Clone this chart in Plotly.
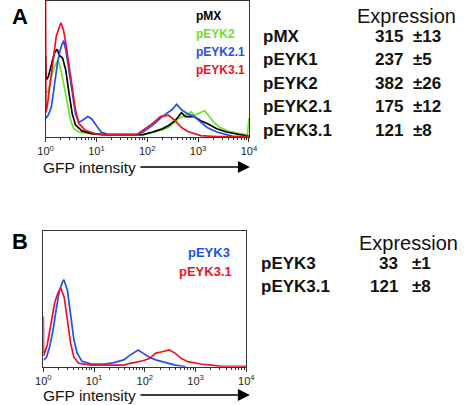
import numpy as np
import plotly.graph_objects as go

# ---------------- data (x in log10 GFP intensity, y in % of axis height) ----------------
a_red_log = [0, 0.005, 0.03, 0.082, 0.145, 0.209, 0.30, 0.35, 0.398, 0.461, 0.525, 0.588, 0.651, 0.777, 0.967, 1.156, 1.472, 1.788, 1.915, 2.104, 2.26, 2.42, 2.546, 2.673, 2.799, 3.052, 3.368, 4.0]
a_red_y = [100, 18, 22, 37, 56, 74, 84, 79, 69, 52, 34, 20, 10, 5, 2.5, 1.5, 1.5, 1.5, 5, 10, 15, 16, 12, 7, 4, 1, 0.3, 0.3]

a_blue_log = [0, 0.051, 0.114, 0.177, 0.240, 0.303, 0.354, 0.398, 0.461, 0.525, 0.588, 0.651, 0.714, 0.83, 0.904, 0.998, 1.093, 1.220, 1.472, 1.788, 1.915, 2.104, 2.294, 2.483, 2.578, 2.673, 2.799, 2.926, 3.052, 3.178, 3.368, 3.558, 3.684, 4.0]
a_blue_y = [13.5, 16, 22, 39, 56, 66, 71, 64, 49, 32, 17, 11, 12, 15, 13.5, 8.5, 3.7, 2, 2, 2, 3.7, 8.5, 15, 20, 24, 20, 17, 15, 11, 7, 3.7, 1.7, 0.5, 0.3]

a_black_log = [0, 0.01, 0.051, 0.114, 0.177, 0.227, 0.272, 0.335, 0.398, 0.461, 0.525, 0.588, 0.714, 0.904, 1.156, 1.5, 1.915, 2.104, 2.294, 2.42, 2.546, 2.673, 2.75, 2.926, 3.052, 3.178, 3.368, 3.558, 3.747, 3.937, 4.0]
a_black_y = [60, 42, 44, 54, 62, 64.5, 60, 58, 49, 32, 17, 9, 4.5, 2.5, 1.7, 1.7, 1.7, 3.7, 6, 8.5, 12, 17.9, 15, 15, 12, 10, 6, 3.7, 2.5, 1, 0.5]

a_green_log = [0, 0.051, 0.114, 0.177, 0.25, 0.303, 0.366, 0.430, 0.493, 0.556, 0.651, 0.904, 1.156, 1.915, 2.167, 2.42, 2.61, 2.799, 2.86, 2.926, 3.0, 3.128, 3.2, 3.305, 3.431, 3.621, 3.811, 3.97, 4.0]
a_green_y = [32, 34, 44, 52, 56.6, 49, 37, 25, 12, 6, 3.7, 2.5, 1.5, 1.5, 3.7, 7, 13.5, 17, 18.5, 16, 17, 19.3, 16, 11, 7, 4, 2.5, 1.5, 14]

b_blue_log = [0.013, 0.063, 0.127, 0.190, 0.253, 0.316, 0.380, 0.405, 0.475, 0.538, 0.601, 0.665, 0.759, 0.949, 1.203, 1.392, 1.582, 1.709, 1.867, 1.962, 2.089, 2.215, 2.405, 2.595, 2.722, 2.8]
b_blue_y = [5, 7, 15, 27, 42, 56, 62.5, 64, 56, 37, 20, 10, 4, 2, 2, 3, 5, 8.5, 12.3, 10, 7, 5, 3, 1.2, 0.5, 0]

b_red_log = [0, 0.005, 0.076, 0.158, 0.222, 0.285, 0.342, 0.411, 0.475, 0.538, 0.601, 0.696, 0.949, 1.582, 1.709, 1.962, 2.089, 2.215, 2.342, 2.48, 2.595, 2.722, 2.848, 3.101, 3.354, 3.5, 4.0]
b_red_y = [37, 8, 16, 32, 47, 54, 58, 51, 34, 17, 7, 2.5, 1.2, 1.2, 2.5, 4.4, 6, 10, 11, 12.3, 10, 6, 3.7, 2, 1, 0.3, 0.3]

tick_vals = [1, 10, 100, 1000, 10000]
tick_text = ["10<sup>0</sup>", "10<sup>1</sup>", "10<sup>2</sup>", "10<sup>3</sup>", "10<sup>4</sup>"]

a_legend = ["pMX", "pEYK2", "pEYK2.1", "pEYK3.1"]
b_legend = ["pEYK3", "pEYK3.1"]

a_constructs = ["pMX", "pEYK1", "pEYK2", "pEYK2.1", "pEYK3.1"]
a_expr = ["315", "237", "382", "175", "121"]
a_err = ["±13", "±5", "±26", "±12", "±8"]

b_constructs = ["pEYK3", "pEYK3.1"]
b_expr = ["33", "121"]
b_err = ["±1", "±8"]

# ---------------- figure ----------------
W, H = 469, 405
RED, BLUE, GREEN, BLACK = "#ee1122", "#2250ee", "#6ee02a", "#000000"
FONT = "Liberation Sans, Arial, sans-serif"

def px(x):
    return x / W

def py(y):
    return 1 - y / H

fig = go.Figure()

def add(xlog, y, color, xa, ya):
    fig.add_trace(go.Scatter(x=10 ** np.array(xlog), y=y, mode="lines",
                             line=dict(color=color, width=1.7), xaxis=xa, yaxis=ya,
                             showlegend=False, hoverinfo="skip"))

add(a_green_log, a_green_y, GREEN, "x", "y")
add(a_black_log, a_black_y, BLACK, "x", "y")
add(a_blue_log, a_blue_y, BLUE, "x", "y")
add(a_red_log, a_red_y, RED, "x", "y")
add(b_blue_log, b_blue_y, BLUE, "x2", "y2")
add(b_red_log, b_red_y, RED, "x2", "y2")

xcommon = dict(type="log", range=[0, 4], tickvals=tick_vals, ticktext=tick_text,
               ticks="outside", ticklen=4, tickcolor="#333", showline=True, linecolor="#333",
               linewidth=1, mirror=True, showgrid=False, zeroline=False,
               tickfont=dict(family=FONT, size=11, color="#222"),
               minor=dict(ticks="outside", ticklen=2, tickcolor="#333", dtick="D1", showgrid=False))
ycommon = dict(range=[0, 100], showticklabels=False, ticks="", showline=True, linecolor="#333",
               linewidth=1, mirror=True, showgrid=False, zeroline=False)

fig.update_layout(
    width=W, height=H, margin=dict(l=0, r=0, t=0, b=0),
    paper_bgcolor="white", plot_bgcolor="white", showlegend=False,
    xaxis=dict(domain=[px(39), px(250)], anchor="y", **xcommon),
    yaxis=dict(domain=[py(137), py(1)], anchor="x", **ycommon),
    xaxis2=dict(domain=[px(36.7), px(247.3)], anchor="y2", **xcommon),
    yaxis2=dict(domain=[py(366.7), py(230.7)], anchor="x2", **ycommon),
)

ann = []

def text(x, y, t, size, color="black", bold=False, xanchor="left"):
    ann.append(dict(x=px(x), y=py(y), xref="paper", yref="paper", text=(f"<b>{t}</b>" if bold else t),
                    showarrow=False, xanchor=xanchor, yanchor="middle",
                    font=dict(family=FONT, size=size, color=color)))

# panel letters
text(2, 16, "A", 22, bold=True)
text(2, 241, "B", 22, bold=True)

# axis titles and arrows
for ty in (167, 395):
    text(34, ty, "GFP intensity", 15.5, color="#111")
    ann.append(dict(x=px(251), y=py(ty), ax=-111, ay=0, xref="paper", yref="paper",
                    axref="pixel", ayref="pixel", text="", showarrow=True, arrowhead=2,
                    arrowsize=1.6, arrowwidth=1.5, arrowcolor="black"))

# in-plot legends
a_colors = [BLACK, GREEN, BLUE, RED]
for i, (lab, col) in enumerate(zip(a_legend, a_colors)):
    text(193, 15.7 + i * 18.1, lab, 12, color=col, bold=True)
b_colors = [BLUE, RED]
b_leg_pos = [(185, 252.7), (175, 271)]
for lab, col, (lx, ly) in zip(b_legend, b_colors, b_leg_pos):
    text(lx, ly, lab, 13, color=col, bold=True)

# tables
text(414, 16, "Expression", 20, color="#111", xanchor="center")
for i, (c, e, er) in enumerate(zip(a_constructs, a_expr, a_err)):
    yy = 36 + i * 23.5
    text(262, yy, c, 17, bold=True, color="#111")
    text(412, yy, e, 17, bold=True, color="#111", xanchor="right")
    text(418, yy, er, 17, bold=True, color="#111")

text(416, 243, "Expression", 20, color="#111", xanchor="center")
for i, (c, e, er) in enumerate(zip(b_constructs, b_expr, b_err)):
    yy = 263.3 + i * 23.4
    text(260, yy, c, 17, bold=True, color="#111")
    text(407, yy, e, 17, bold=True, color="#111", xanchor="right")
    text(417, yy, er, 17, bold=True, color="#111")

fig.update_layout(annotations=ann)
fig.write_html("out.html", config={"displayModeBar": False, "staticPlot": True},
               post_script="document.body.style.margin='0';document.body.style.padding='0';document.body.style.overflow='hidden';")
